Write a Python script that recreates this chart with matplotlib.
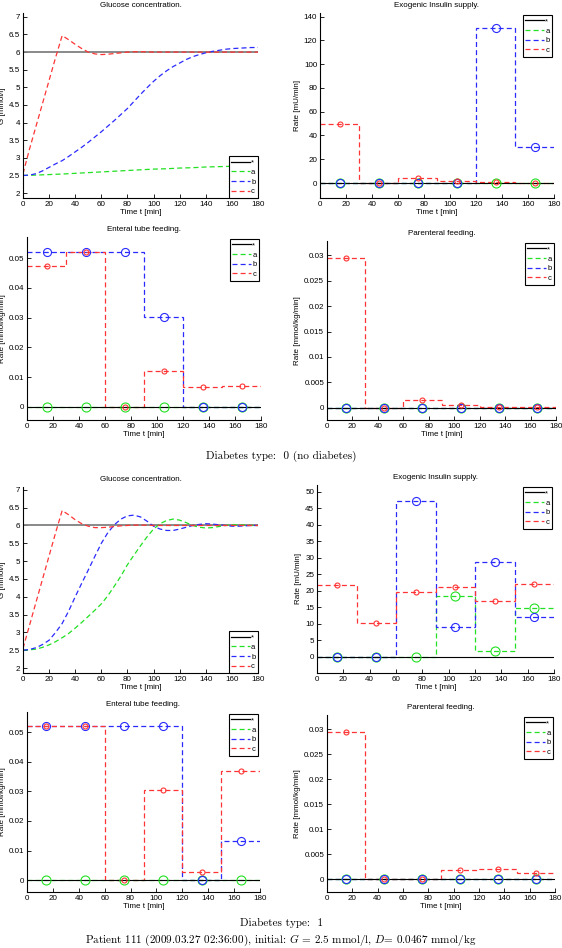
import matplotlib
matplotlib.use("Agg")
import matplotlib.pyplot as plt
from matplotlib.lines import Line2D
from matplotlib.ticker import FuncFormatter, MultipleLocator

plt.rcParams['font.family'] = ['Liberation Sans', 'DejaVu Sans']
plt.rcParams['mathtext.fontset'] = 'cm'

# ---------------- data ----------------
t_glu = list(range(0, 181, 5))
glu_target = 6.0

# Diabetes type 0
glu0_a = [2.50, 2.505, 2.51, 2.518, 2.525, 2.533, 2.54, 2.55, 2.56, 2.57, 2.58, 2.59, 2.60,
          2.61, 2.62, 2.63, 2.64, 2.65, 2.66, 2.67, 2.68, 2.685, 2.69, 2.70, 2.71, 2.715,
          2.72, 2.73, 2.74, 2.745, 2.75, 2.755, 2.76, 2.765, 2.77, 2.775, 2.78]
glu0_b = [2.50, 2.51, 2.55, 2.63, 2.73, 2.83, 2.92, 3.04, 3.17, 3.30, 3.44, 3.59, 3.74,
          3.90, 4.06, 4.23, 4.40, 4.60, 4.80, 4.99, 5.17, 5.33, 5.47, 5.59, 5.69, 5.79,
          5.87, 5.93, 5.98, 6.02, 6.05, 6.08, 6.10, 6.11, 6.12, 6.13, 6.13]
glu0_c = [2.55, 3.25, 3.90, 4.55, 5.20, 5.85, 6.47, 6.35, 6.22, 6.10, 6.00, 5.95, 5.93,
          5.94, 5.96, 5.98, 6.00, 6.01, 6.01, 6.01, 6.00, 6.00, 6.00, 6.00, 6.00, 6.00,
          6.00, 6.00, 6.00, 6.00, 6.00, 6.00, 6.00, 6.00, 6.00, 6.00, 6.00]

# Diabetes type 1
glu1_a = [2.50, 2.51, 2.53, 2.58, 2.65, 2.74, 2.85, 2.97, 3.12, 3.28, 3.45, 3.62, 3.80,
          4.03, 4.30, 4.58, 4.90, 5.17, 5.43, 5.68, 5.90, 6.05, 6.14, 6.18, 6.15, 6.08,
          6.00, 5.95, 5.93, 5.94, 5.97, 6.00, 6.02, 6.02, 6.01, 6.00, 6.00]
glu1_b = [2.50, 2.52, 2.57, 2.66, 2.78, 3.00, 3.25, 3.60, 4.00, 4.38, 4.75, 5.13, 5.50,
          5.80, 6.02, 6.18, 6.27, 6.29, 6.24, 6.12, 5.98, 5.90, 5.86, 5.86, 5.90, 5.95,
          6.00, 6.03, 6.05, 6.04, 6.02, 6.00, 5.98, 5.98, 5.99, 6.00, 6.00]
glu1_c = [2.55, 3.20, 3.85, 4.50, 5.15, 5.80, 6.42, 6.30, 6.16, 6.05, 5.98, 5.94, 5.94,
          5.95, 5.97, 5.99, 6.00, 6.01, 6.01, 6.01, 6.00, 6.00, 6.00, 6.00, 6.00, 6.00,
          6.00, 6.00, 6.00, 6.00, 6.00, 6.00, 6.00, 6.00, 6.00, 6.00, 6.00]

edges = [0, 30, 60, 90, 120, 150, 180]
mids = [15, 45, 75, 105, 135, 165]
rate_target = 0.0

ins0_a = [0, 0, 0, 0, 0, 0]
ins0_b = [0, 0, 0, 0, 130, 30]
ins0_c = [49.5, 0.3, 4.3, 1.4, 1.0, 0.3]

ent0_a = [0, 0, 0, 0, 0, 0]
ent0_b = [0.052, 0.052, 0.052, 0.0302, 0, 0]
ent0_c = [0.0473, 0.052, 0, 0.0119, 0.0066, 0.0069]

par0_a = [0, 0, 0, 0, 0, 0]
par0_b = [0, 0, 0, 0, 0, 0]
par0_c = [0.0294, 0, 0.0015, 0.0005, 0.0002, 0.0001]

ins1_a = [0, 0, 0, 18.5, 1.8, 14.7]
ins1_b = [0, 0, 47.2, 9.0, 28.7, 12.1]
ins1_c = [21.7, 10.2, 19.8, 21.1, 17.1, 22.1]

ent1_a = [0, 0, 0, 0, 0, 0]
ent1_b = [0.052, 0.052, 0.052, 0.052, 0, 0.0133]
ent1_c = [0.052, 0.052, 0, 0.0303, 0.0027, 0.0370]

par1_a = [0, 0, 0, 0, 0, 0]
par1_b = [0, 0, 0, 0, 0, 0]
par1_c = [0.0294, 0, 0, 0.0018, 0.0020, 0.0013]

labels = ['*', 'a', 'b', 'c']
title_glu = 'Glucose concentration.'
title_ins = 'Exogenic Insulin supply.'
title_ent = 'Enteral tube feeding.'
title_par = 'Parenteral feeding.'

# ---------------- style ----------------
W, H = 562, 948
C_A = '#22e022'
C_B = '#2a2aff'
C_C = '#ff3535'
DASH = (0, (4, 2.5))
LW = 0.9
FS = 5.8

fig = plt.figure(figsize=(W / 100, H / 100), dpi=100)


def add_ax(l, r, t, b):
    return fig.add_axes([l / W, 1 - b / H, (r - l) / W, (b - t) / H])


fmt = FuncFormatter(lambda v, p: f'{v:g}')


def setup(ax, title, ylabel, ylim, ystep):
    ax.set_xlim(0, 180)
    ax.set_ylim(*ylim)
    ax.xaxis.set_major_locator(MultipleLocator(20))
    ax.yaxis.set_major_locator(MultipleLocator(ystep))
    ax.yaxis.set_major_formatter(fmt)
    ax.xaxis.set_major_formatter(fmt)
    for s in ('top', 'right'):
        ax.spines[s].set_visible(False)
    for s in ('left', 'bottom'):
        ax.spines[s].set_linewidth(0.8)
    ax.tick_params(direction='in', length=3, width=0.6, labelsize=FS, pad=2)
    ax.set_title(title, fontsize=FS, pad=4)
    ax.set_xlabel('Time t [min]', fontsize=FS, labelpad=1)
    ax.set_ylabel(ylabel, fontsize=FS, labelpad=2)


def legend(ax, loc, pad):
    hs = [Line2D([], [], color='k', lw=0.9),
          Line2D([], [], color=C_A, lw=0.9, ls=DASH),
          Line2D([], [], color=C_B, lw=0.9, ls=DASH),
          Line2D([], [], color=C_C, lw=0.9, ls=DASH)]
    lg = ax.legend(hs, labels, loc=loc, fontsize=5.5, handlelength=2.4,
                   handletextpad=0.2, labelspacing=0.3, borderpad=0.35,
                   borderaxespad=pad, fancybox=False, framealpha=1)
    lg.get_frame().set_edgecolor('k')
    lg.get_frame().set_linewidth(0.8)


def glucose(ax, a, b, c, ylim):
    ax.plot([0, 180], [glu_target, glu_target], color='#808080', lw=1.3)
    ax.plot(t_glu, a, color=C_A, ls=DASH, lw=LW)
    ax.plot(t_glu, b, color=C_B, ls=DASH, lw=LW)
    ax.plot(t_glu, c, color=C_C, ls=DASH, lw=LW)
    setup(ax, title_glu, 'G [mmol/l]', ylim, 0.5)
    legend(ax, 'lower right', 0.0)


def rate(ax, a, b, c, title, ylabel, ylim, ystep):
    ax.plot([0, 180], [rate_target, rate_target], color='k', lw=0.8)
    for vals, col, ms in ((a, C_A, 6.5), (b, C_B, 5.8), (c, C_C, 3.6)):
        ax.stairs(vals, edges, baseline=None, color=col, ls=DASH, lw=LW)
        ax.plot(mids, vals, 'o', mfc='none', mec=col, mew=0.8, ms=ms, ls='none')
    setup(ax, title, ylabel, ylim, ystep)
    legend(ax, 'upper right', 0.25)


# ---- Diabetes type 0 ----
glucose(add_ax(23, 258, 13, 198), glu0_a, glu0_b, glu0_c, (1.86, 7.11))
rate(add_ax(320, 554, 13, 198), ins0_a, ins0_b, ins0_c, title_ins,
     'Rate [mU/min]', (-12.6, 143), 20)
rate(add_ax(27, 261, 237, 420), ent0_a, ent0_b, ent0_c, title_ent,
     'Rate [mmol/kg/min]', (-0.0044, 0.0571), 0.01)
rate(add_ax(327, 556, 241, 420), par0_a, par0_b, par0_c, title_par,
     'Rate [mmol/kg/min]', (-0.0024, 0.0328), 0.005)

# ---- Diabetes type 1 ----
glucose(add_ax(23, 258, 487, 673), glu1_a, glu1_b, glu1_c, (1.86, 7.08))
rate(add_ax(317, 554, 485, 673), ins1_a, ins1_b, ins1_c, title_ins,
     'Rate [mU/min]', (-4.85, 52.1), 5)
rate(add_ax(27, 260, 712, 892), ent1_a, ent1_b, ent1_c, title_ent,
     'Rate [mmol/kg/min]', (-0.0040, 0.0568), 0.01)
rate(add_ax(327, 555, 715, 892), par1_a, par1_b, par1_c, title_par,
     'Rate [mmol/kg/min]', (-0.0025, 0.0328), 0.005)

serif = dict(family='cmr10', fontsize=8, ha='center', va='center')
fig.text(0.5, 1 - 456 / H, 'Diabetes type:  0 (no diabetes)', **serif)
fig.text(0.5, 1 - 923 / H, 'Diabetes type:  1', **serif)
fig.text(0.5, 1 - 940 / H,
         r'Patient 111 (2009.03.27 02:36:00), initial: $G$ = 2.5 mmol/l, $D$= 0.0467 mmol/kg',
         **serif)

fig.savefig('out.png', dpi=100)
